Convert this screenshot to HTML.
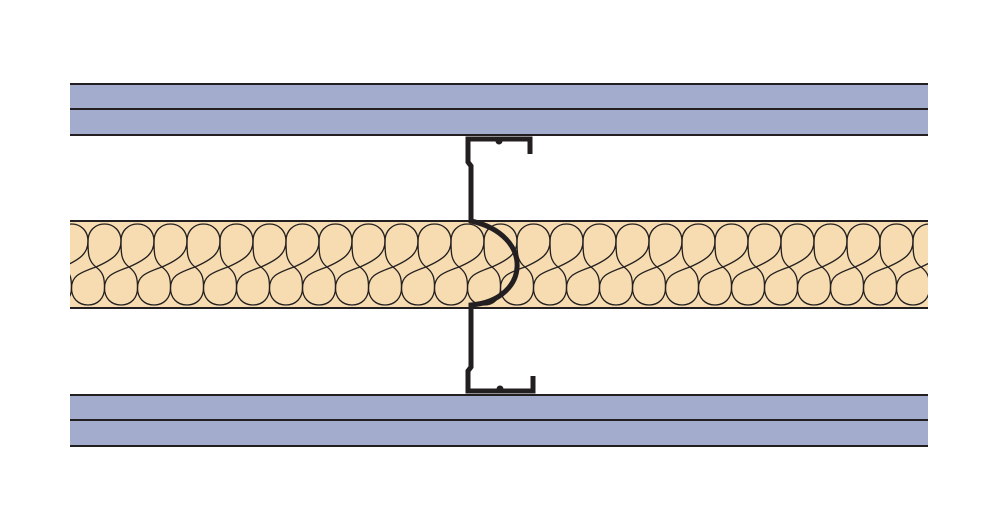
<!DOCTYPE html>
<html><head><meta charset="utf-8"><style>html,body{margin:0;padding:0;background:#fff}svg{display:block}</style></head>
<body>
<svg width="1000" height="531" viewBox="0 0 1000 531" xmlns="http://www.w3.org/2000/svg">
<defs>
<pattern id="ins" patternUnits="userSpaceOnUse" x="55" y="221" width="33" height="87">
<rect width="33" height="87" fill="#f6dcb0"/>
<g fill="none" stroke="#231f20" stroke-width="1.3">
<path id="f8" d="M8,46 C 26,38 33,32 33,20 C 33,10 26,3 16.5,3 C 7,3 0,10 0,20 C 0,32 0,40 8,46 C 16,52 16.5,58 16.5,67 C 16.5,77 10,84 0,84 C -10,84 -16.5,77 -16.5,67 C -16.5,56 -10,52 8,46 Z"/>
<use href="#f8" x="33"/>
<use href="#f8" x="-33"/>
</g>
</pattern>
</defs>
<rect x="70" y="84" width="858" height="51" fill="#a4acce"/>
<rect x="70" y="394" width="858" height="52" fill="#a4acce"/>
<g stroke="#231f20" stroke-width="2">
<line x1="70" y1="84" x2="928" y2="84"/>
<line x1="70" y1="109" x2="928" y2="109"/>
<line x1="70" y1="135" x2="928" y2="135"/>
<line x1="70" y1="395" x2="928" y2="395"/>
<line x1="70" y1="420" x2="928" y2="420"/>
<line x1="70" y1="446" x2="928" y2="446"/>
</g>
<rect x="70" y="221" width="858" height="87" fill="url(#ins)"/>
<g stroke="#231f20" stroke-width="2">
<line x1="70" y1="221" x2="928" y2="221"/>
<line x1="70" y1="308" x2="928" y2="308"/>
</g>
<g fill="none" stroke="#231f20" stroke-width="5" stroke-linejoin="miter">
<path d="M530,154 L530,139 L468,139 L468,162 L471,166 L471,221 C 535,235 530,300 471,305 L471,367 L468,371 L468,391 L533,391 L533,376"/>
</g>
<circle cx="499" cy="141" r="3.5" fill="#231f20"/>
<circle cx="500" cy="389" r="3.5" fill="#231f20"/>
</svg>
</body></html>
